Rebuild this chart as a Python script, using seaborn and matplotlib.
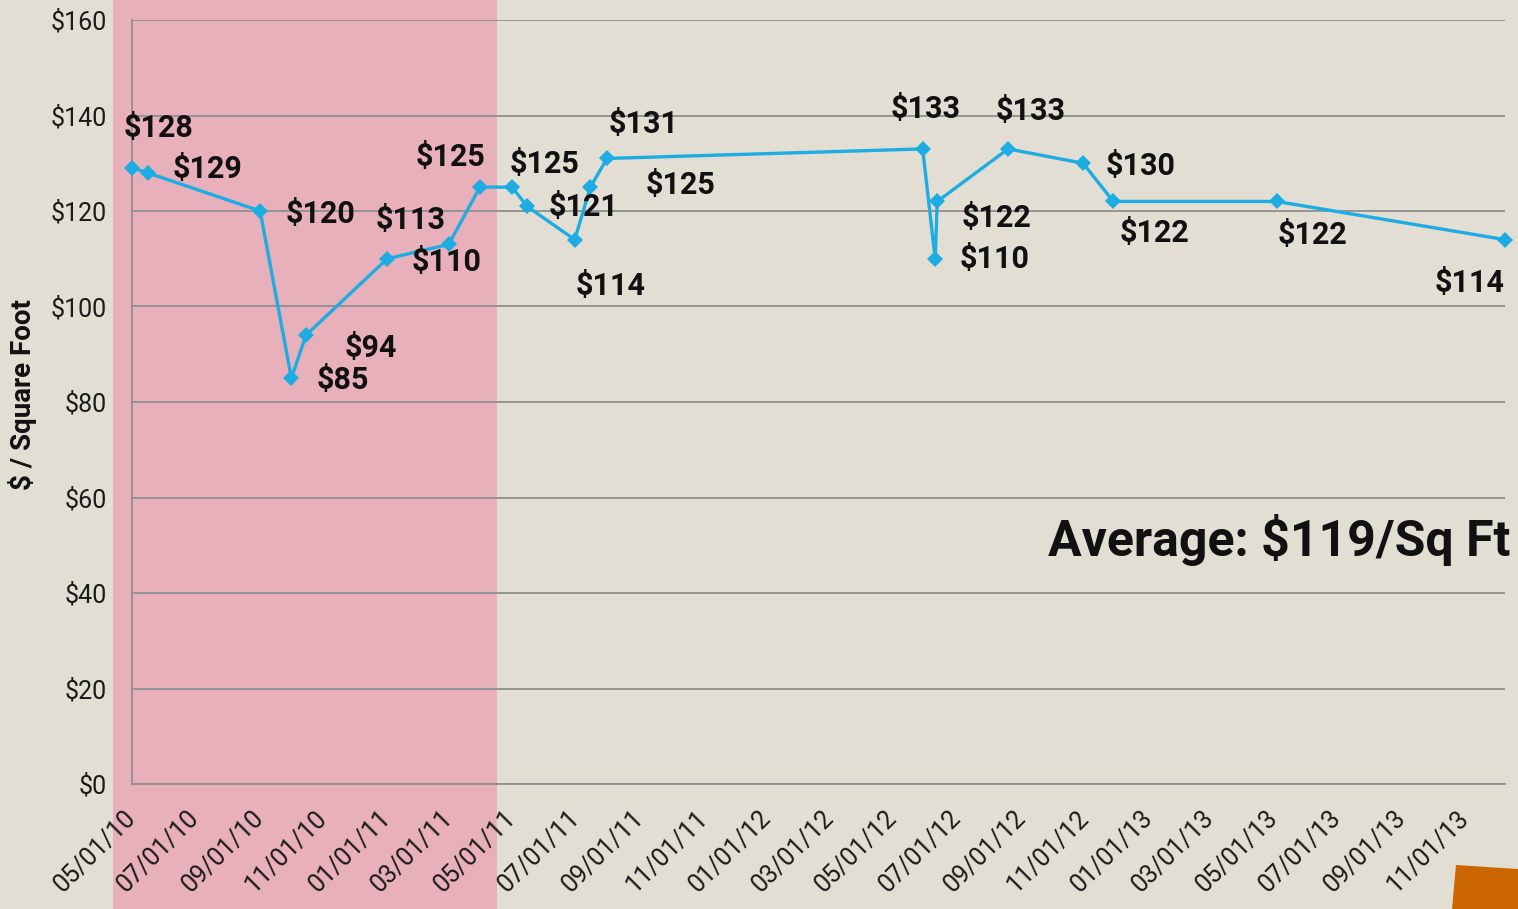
import matplotlib
matplotlib.use("Agg")
import matplotlib.pyplot as plt
from matplotlib.patches import Rectangle, Polygon
import seaborn as sns
import pandas as pd

# ---- data ----
dates = ["2010-05-01", "2010-05-16", "2010-09-01", "2010-10-01", "2010-10-15",
         "2011-01-01", "2011-03-01", "2011-03-31", "2011-05-01", "2011-05-15",
         "2011-06-30", "2011-07-15", "2011-07-31", "2012-05-29", "2012-06-10",
         "2012-06-12", "2012-08-19", "2012-10-30", "2012-11-28", "2013-05-04",
         "2013-12-09"]
price = [129, 128, 120, 85, 94, 110, 113, 125, 125, 121, 114, 125, 131,
         133, 110, 122, 133, 130, 122, 122, 114]
y_ticks = [0, 20, 40, 60, 80, 100, 120, 140, 160]
x_tick_start = "2010-05-01"
x_tick_end = "2013-11-01"
y_label = "$ / Square Foot"
average_text = "Average: $119/Sq Ft"

# label offsets (pixels) relative to each point
label_dx = [76, 11, 60, 51, 65, 59, -38, -29, 32, 57, 36, 90, 37, 3, 59, 59, 23, 58, 41, 36, -35]
label_dy = [-1, 45, -3, -2, -13, -3, 24, 30, 23, -1, -46, 2, 34, 40, 0, -17, 38, -3, -32, -34, -43]

df = pd.DataFrame({"date": pd.to_datetime(dates), "price": price})

BG = "#E3DED3"
PINK = "#E8B0BA"
LINE = "#1EADE3"
GRID = "#8F8F8F"

sns.set_style("white")
plt.rcParams["font.family"] = ["Roboto", "DejaVu Sans"]

W, H = 1518, 909
fig = plt.figure(figsize=(W / 100, H / 100), dpi=100, facecolor=BG)

# slide decorations
fig.patches.append(Rectangle((113 / W, 0), (497 - 113) / W, 1, transform=fig.transFigure,
                             facecolor=PINK, edgecolor="none", zorder=-5))
fig.patches.append(Polygon([(1456 / W, 1 - 865 / H), (1.0, 1 - 869 / H), (1.0, 0), (1452 / W, 0)],
                           closed=True, transform=fig.transFigure,
                           facecolor="#CC6600", edgecolor="none", zorder=-5))

ax = fig.add_axes([132 / W, 1 - 784 / H, (1505 - 132) / W, (784 - 20) / H])
ax.set_facecolor("none")

sns.lineplot(data=df, x="date", y="price", ax=ax, color=LINE, linewidth=2.4,
             marker="D", markersize=8, markeredgewidth=0, zorder=5, clip_on=False)

for d, v, dx, dy in zip(df["date"], df["price"], label_dx, label_dy):
    ax.annotate(f"${v}", xy=(d, v), xytext=(dx, dy), textcoords="offset pixels",
                ha="center", va="center", fontsize=22, fontweight="bold",
                color="#111111", zorder=6, annotation_clip=False)

ax.set_ylim(0, 160)
ax.set_yticks(y_ticks)
ax.set_yticklabels([f"${t}" for t in y_ticks])
ax.set_xlim(pd.Timestamp(dates[0]), pd.Timestamp(dates[-1]))
xt = pd.date_range(x_tick_start, x_tick_end, freq="2MS")
ax.set_xticks(xt)
ax.set_xticklabels([t.strftime("%m/%d/%y") for t in xt], rotation=45,
                   ha="right", va="center", rotation_mode="anchor")

ax.grid(axis="y", color=GRID, linewidth=1.3)
ax.grid(axis="x", visible=False)
ax.set_axisbelow(True)
for s in ["top", "right"]:
    ax.spines[s].set_visible(False)
for s in ["left", "bottom"]:
    ax.spines[s].set_color(GRID)
    ax.spines[s].set_linewidth(1.3)

ax.tick_params(axis="y", length=0, pad=18, labelsize=18, labelcolor="#1a1a1a")
ax.tick_params(axis="x", length=0, pad=22, labelsize=18, labelcolor="#1a1a1a")

ax.set_xlabel("")
ax.set_ylabel(y_label, fontsize=20, fontweight="bold", color="#111111")
ax.yaxis.set_label_coords((37 - 132) / (1505 - 132), (784 - 395) / (784 - 20))

fig.text(1510 / W, 1 - 540 / H, average_text, ha="right", va="center",
         fontsize=36, fontweight="bold", color="#111111")

fig.savefig("out.png", dpi=100, facecolor=BG)
